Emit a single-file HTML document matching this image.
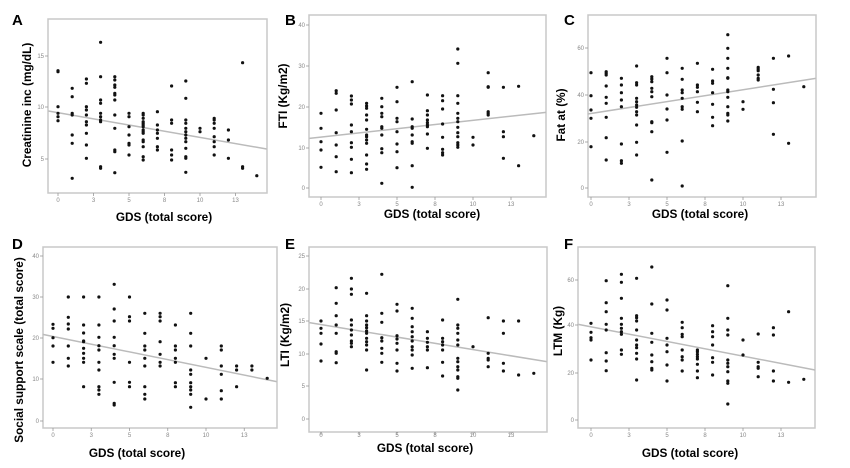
<!DOCTYPE html>
<html><head><meta charset="utf-8"><style>
html,body{margin:0;padding:0;background:#fff;width:850px;height:468px;overflow:hidden}
svg{display:block}
text{font-family:"Liberation Sans",Arial,sans-serif}
</style></head><body>
<svg id="s" width="850" height="468" xmlns="http://www.w3.org/2000/svg"></svg>
<script>
var P=[
{L:'A',lx:12,ly:25,box:[48,19,267,193],x0:58,st:14.2,xo:0,yo:0,
 yt:[[15,56],[10,107],[5,159]],xty:202,xtit:[164,221],ytit:[27,105,'Creatinine inc (mg/dL)'],
 line:[145,333,800,447],
 c:[[212,215,320,340,350,362],[265,290,340,345,405,430,535],[237,250,320,330,345,365,375,400,435,475],[127,230,300,310,340,350,360,365,500,505],[230,240,255,262,280,285,300,345,385,450,455,518],[340,350,380,405,430,435,465],[340,345,355,365,370,375,380,390,395,400,420,425,440,470,480],[335,375,390,400,415,440,450],[258,360,370,450,465,480],[243,295,360,370,385,395,405,415,425,445,470,475,517],[385,395],[355,360,370,385,410,425,440,465],[390,420,475],[188,500,505],[527]]},
{L:'B',lx:285,ly:25,box:[309,15,546,197],x0:321,st:15.2,xo:285,yo:0,
 yt:[[40,25],[30,66],[20,107],[10,148],[0,188]],xty:206,xtit:[432,218],ytit:[283,96,'FTI (Kg/m2)'],
 line:[73,415,783,337],
 c:[[340,385,425,450,502],[272,280,330,398,435,470,515],[288,300,312,375,395,428,442,478,518],[310,318,325,345,360,388,405,410,420,430,465,492,508],[295,320,340,350,380,385,405,446,458,550],[262,305,355,365,395,432,455,503],[245,357,380,385,405,425,430,497,562],[285,332,345,360,368,375,380,402,445],[287,302,327,372,412,448,458,465],[147,190,287,310,340,355,365,382,398,410,428,435,442],[412,435],[218,260,262,335,340,345],[262,395,410,475],[259,497],[407]]},
{L:'C',lx:564,ly:25,box:[588,15,816,197],x0:591,st:15.2,xo:565,yo:0,
 yt:[[60,48],[40,95],[20,142],[0,188]],xty:206,xtit:[700,218],ytit:[561,115,'Fat at (%)'],
 line:[68,342,752,235],
 c:[[218,287,330,355,440],[215,220,225,258,292,310,352,413,480],[235,255,278,300,320,432,482,490],[198,248,255,295,305,315,322,335,345,375,427,465],[230,237,245,265,275,290,365,368,395,540],[175,218,285,327,360,457],[205,238,270,278,295,320,328,423,558],[190,255,262,275,307,335],[208,243,250,278,313,352,377],[104,145,175,205,233,235,270,275,292,320,340,345,363],[305,328],[202,207,212,225,235,240],[175,268,308,403],[168,430],[260]]},
{L:'D',lx:12,ly:249,box:[43,247,277,428],x0:53,st:15.3,xo:0,yo:235,
 yt:[[40,256],[30,297],[20,338],[10,379],[0,421]],xty:437,xtit:[137,457],ytit:[19,350,'Social support scale (total score)'],
 line:[128,298,830,440],
 c:[[268,280,308,333,382],[186,247,267,282,333,370,393],[186,270,294,318,320,340,355,370,382,455],[186,270,307,332,345,382,405,455,465,478],[148,222,258,307,332,358,370,442,505,510],[186,245,258,382,442,455],[235,295,333,345,370,393,455,478,492],[235,245,258,320,358,382,393],[270,333,345,370,382,443,455],[235,295,333,405,418,443,455,465,478,517],[370,492],[333,345,393,418,467,492],[393,405,455],[393,405],[430]]},
{L:'E',lx:285,ly:249,box:[309,247,547,432],x0:321,st:15.2,xo:285,yo:235,
 yt:[[25,256],[20,289],[15,321],[10,354],[5,386],[0,419]],xty:437,xtit:[425,452],ytit:[285,335,'LTI (Kg/m2)'],
 line:[73,263,785,380],
 c:[[258,280,295,327,378],[158,205,242,270,295,350,355,383],[130,162,178,255,270,285,300,318,325,335],[175,242,258,270,278,288,295,310,320,330,345,405],[118,235,262,308,318,340,355,382],[208,228,302,312,325,345,385,408],[220,250,275,290,305,318,335,345,360,400],[290,310,322,335,345,398],[255,310,320,330,345,382,423],[193,270,280,295,315,330,370,380,395,405,425,430,465],[335],[248,355,370,375,395],[258,295,385,408],[258,420],[415]]},
{L:'F',lx:564,ly:249,box:[578,247,815,428],x0:591,st:15.2,xo:565,yo:235,
 yt:[[60,280],[40,325],[20,373],[0,420]],xty:437,xtit:[690,457],ytit:[558,331,'LTM (Kg)'],
 line:[40,268,750,405],
 c:[[265,292,308,315,375],[137,203,230,268,285,353,378,407],[118,142,190,250,268,280,290,298,345,358],[130,242,248,258,285,315,330,338,355,372,435],[96,207,295,322,360,380,400,405],[195,225,310,330,350,390,438],[262,278,298,305,345,365,375,408],[345,350,358,365,372,388,408,428],[272,290,305,330,368,382,420],[152,250,285,300,375,385,395,410,438,445,507],[315,360],[297,382,395,400,425],[278,300,408,438],[230,442],[433]]}
];
var h='';
P.forEach(function(p){
 var b=p.box;
 h+='<rect x="'+b[0]+'" y="'+b[1]+'" width="'+(b[2]-b[0])+'" height="'+(b[3]-b[1])+'" fill="none" stroke="#c8c8c8" stroke-width="1.5"/>';
 h+='<text x="'+p.lx+'" y="'+p.ly+'" font-size="15" font-weight="bold" fill="#000">'+p.L+'</text>';
 p.yt.forEach(function(t){
  h+='<line x1="'+(b[0]-3)+'" y1="'+t[1]+'" x2="'+b[0]+'" y2="'+t[1]+'" stroke="#999" stroke-width="0.8"/>';
  h+='<text x="'+(b[0]-4)+'" y="'+(t[1]+2)+'" font-size="6" fill="#888" text-anchor="end">'+t[0]+'</text>';
 });
 var labs=['0','3','5','8','10','13'];
 labs.forEach(function(l,i){
  var x=p.x0+p.st*2.5*i;
  h+='<line x1="'+x+'" y1="'+b[3]+'" x2="'+x+'" y2="'+(b[3]+3)+'" stroke="#999" stroke-width="0.8"/>';
  h+='<text x="'+x+'" y="'+p.xty+'" font-size="6" fill="#888" text-anchor="middle">'+l+'</text>';
 });
 h+='<text x="'+p.xtit[0]+'" y="'+p.xtit[1]+'" font-size="11.8" font-weight="bold" text-anchor="middle">GDS (total score)</text>';
 h+='<text transform="translate('+(p.ytit[0]+4)+','+p.ytit[1]+') rotate(-90)" font-size="11.8" font-weight="bold" text-anchor="middle">'+p.ytit[2]+'</text>';
 var l=p.line;
 h+='<line x1="'+(p.xo+l[0]/3)+'" y1="'+(p.yo+l[1]/3)+'" x2="'+(p.xo+l[2]/3)+'" y2="'+(p.yo+l[3]/3)+'" stroke="#bbb" stroke-width="1.5"/>';
 p.c.forEach(function(col,k){
  var x=p.x0+p.st*k;
  col.forEach(function(y){
   h+='<circle cx="'+x.toFixed(1)+'" cy="'+(p.yo+y/3).toFixed(1)+'" r="1.6" fill="#111"/>';
  });
 });
});
document.getElementById('s').innerHTML=h;
</script>
</body></html>
